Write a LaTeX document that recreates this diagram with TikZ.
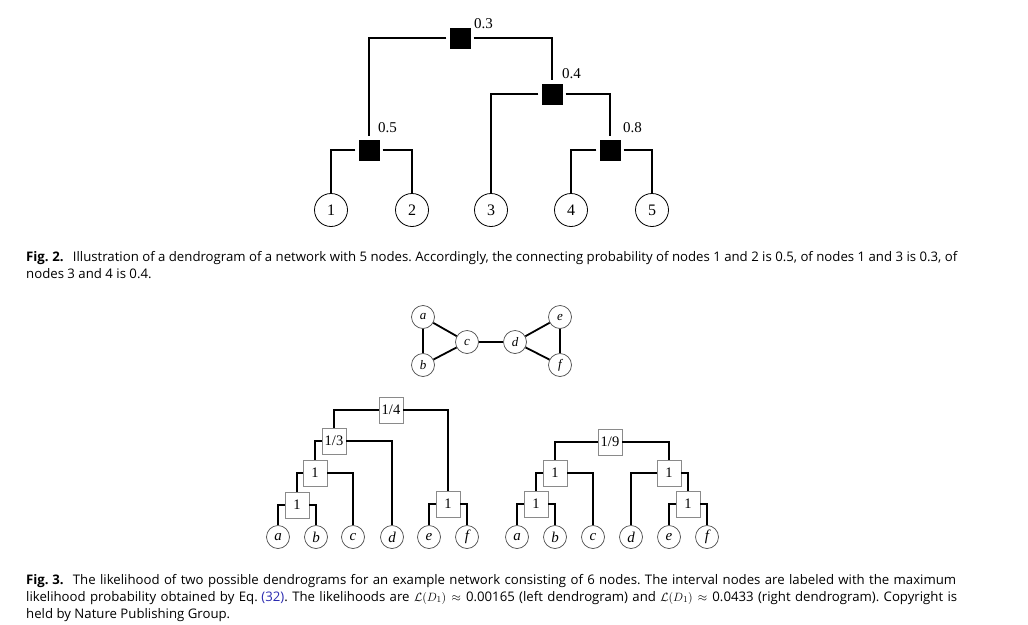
\documentclass[tikz,border=0pt]{standalone}
\usepackage{fontspec}
\setmainfont{Liberation Serif}
\newfontfamily\capfont{Open Sans}
\usetikzlibrary{positioning}
\definecolor{BoxGray}{HTML}{8A8A8A}
\definecolor{RefBlue}{HTML}{2B2BB0}

\begin{document}
\frenchspacing
\begin{tikzpicture}[x=1pt,y=-1pt,
  leaf/.style={circle, draw, line width=0.8pt, minimum size=33pt, inner sep=0pt, font=\fontsize{16}{16}\selectfont},
  merge/.style={rectangle, fill=black, minimum size=21pt, inner sep=0pt},
  prlabel/.style={anchor=base west, inner sep=0pt, font=\fontsize{15}{15}\selectfont},
  link/.style={line width=2pt},
  vert/.style={circle, draw=black!70, fill=white, line width=0.7pt, minimum size=23pt, inner sep=0pt, font=\fontsize{15}{15}\selectfont\itshape},
  tie/.style={line width=1.8pt},
  prob/.style={rectangle, draw=BoxGray, fill=white, line width=0.8pt, minimum width=24pt, minimum height=26pt, inner sep=0pt, font=\fontsize{14.5}{14.5}\selectfont},
  figcap/.style={anchor=base west, inner sep=0pt, font=\capfont\fontsize{13.2}{17}\selectfont}]
  \useasboundingbox (0,0) rectangle (1028,624);

  % Fig. 2 dendrogram
  \node[merge] (s03) at (460,38) {};
  \node[merge] (s04) at (552,94) {};
  \node[merge] (s05) at (369,150) {};
  \node[merge] (s08) at (610,150) {};
  \node[prlabel] (p03) at (474,28) {0.3};
  \node[prlabel] (p04) at (562,78) {0.4};
  \node[prlabel] (p05) at (378,132) {0.5};
  \node[prlabel] (p08) at (623,132) {0.8};
  \node[leaf] (n1) at (331,210) {1};
  \node[leaf] (n2) at (412,210) {2};
  \node[leaf] (n3) at (491,210) {3};
  \node[leaf] (n4) at (571,210) {4};
  \node[leaf] (n5) at (652,210) {5};
  \draw[link, shorten <=3pt, shorten >=3pt] (s03) -| (s05);
  \draw[link, shorten <=3pt, shorten >=3pt] (s03) -| (s04);
  \draw[link, shorten <=3pt] (s04) -| (n3);
  \draw[link, shorten <=3pt, shorten >=3pt] (s04) -| (s08);
  \draw[link, shorten <=3pt] (s05) -| (n1);
  \draw[link, shorten <=3pt] (s05) -| (n2);
  \draw[link, shorten <=3pt] (s08) -| (n4);
  \draw[link, shorten <=3pt] (s08) -| (n5);

  \node[figcap] (cap2a) at (26,261) {\makebox[931pt][s]{\textbf{Fig.\hspace{0.28em}2.}\hspace{0.7em}Illustration of a dendrogram of a network with 5 nodes. Accordingly, the connecting probability of nodes 1 and 2 is 0.5, of nodes 1 and 3 is 0.3, of}};
  \node[figcap] (cap2b) at (26,278) {nodes 3 and 4 is 0.4.};

  % example network
  \node[vert, font=\fontsize{13}{13}\selectfont\itshape] (ga) at (423,317) {a};
  \node[vert, font=\fontsize{13}{13}\selectfont\itshape] (gb) at (423,365) {b};
  \node[vert, font=\fontsize{13}{13}\selectfont\itshape] (gc) at (467,342) {c};
  \node[vert, font=\fontsize{13}{13}\selectfont\itshape] (gd) at (515,342) {d};
  \node[vert, font=\fontsize{13}{13}\selectfont\itshape] (ge) at (560,317) {e};
  \node[vert, font=\fontsize{13}{13}\selectfont\itshape] (gf) at (560,365) {f};
  \draw[tie] (ga) -- (gb);
  \draw[tie] (ga) -- (gc);
  \draw[tie] (gb) -- (gc);
  \draw[tie] (gc) -- (gd);
  \draw[tie] (gd) -- (ge);
  \draw[tie] (gd) -- (gf);
  \draw[tie] (ge) -- (gf);

  % left dendrogram
  \node[vert] (la) at (278,537) {a};
  \node[vert] (lb) at (316,537) {b};
  \node[vert] (lc) at (353,537) {c};
  \node[vert] (ld) at (392,537) {d};
  \node[vert] (le) at (429,537) {e};
  \node[vert] (lf) at (467,537) {f};
  \node[prob] (lab) at (297,505) {1};
  \node[prob] (labc) at (315,473) {1};
  \node[prob] (labcd) at (334,441) {1/3};
  \node[prob] (ltop) at (391,410) {1/4};
  \node[prob] (lef) at (448,504) {1};
  \draw[tie] (ltop) -| (labcd);
  \draw[tie] (ltop) -| (lef);
  \draw[tie] (labcd) -| (labc);
  \draw[tie] (labcd) -| (ld);
  \draw[tie] (labc) -| (lab);
  \draw[tie] (labc) -| (lc);
  \draw[tie] (lab) -| (la);
  \draw[tie] (lab) -| (lb);
  \draw[tie] (lef) -| (le);
  \draw[tie] (lef) -| (lf);

  % right dendrogram
  \node[vert] (ra) at (517,537) {a};
  \node[vert] (rb) at (555,537) {b};
  \node[vert] (rc) at (593,537) {c};
  \node[vert] (rd) at (631,537) {d};
  \node[vert] (re) at (669,537) {e};
  \node[vert] (rf) at (707,537) {f};
  \node[prob] (rtop) at (610,442) {1/9};
  \node[prob] (rabc) at (555,473) {1};
  \node[prob] (rab) at (536,504) {1};
  \node[prob] (rdef) at (669,473) {1};
  \node[prob] (ref) at (688,504) {1};
  \draw[tie] (rtop) -| (rabc);
  \draw[tie] (rtop) -| (rdef);
  \draw[tie] (rabc) -| (rab);
  \draw[tie] (rabc) -| (rc);
  \draw[tie] (rab) -| (ra);
  \draw[tie] (rab) -| (rb);
  \draw[tie] (rdef) -| (rd);
  \draw[tie] (rdef) -| (ref);
  \draw[tie] (ref) -| (re);
  \draw[tie] (ref) -| (rf);

  \node[figcap] (cap3a) at (26,584) {\makebox[930pt][s]{\textbf{Fig.\hspace{0.28em}3.}\hspace{0.7em}The likelihood of two possible dendrograms for an example network consisting of 6 nodes. The interval nodes are labeled with the maximum}};
  \node[figcap] (cap3b) at (26,601) {\makebox[931pt][s]{likelihood probability obtained by Eq.\hspace{0.28em}\textcolor{RefBlue}{(32)}. The likelihoods are $\mathcal{L}(D_1)\approx{}$0.00165 (left dendrogram) and $\mathcal{L}(D_1)\approx{}$0.0433 (right dendrogram). Copyright is}};
  \node[figcap] (cap3c) at (26,618) {held by Nature Publishing Group.};
\end{tikzpicture}
\end{document}
